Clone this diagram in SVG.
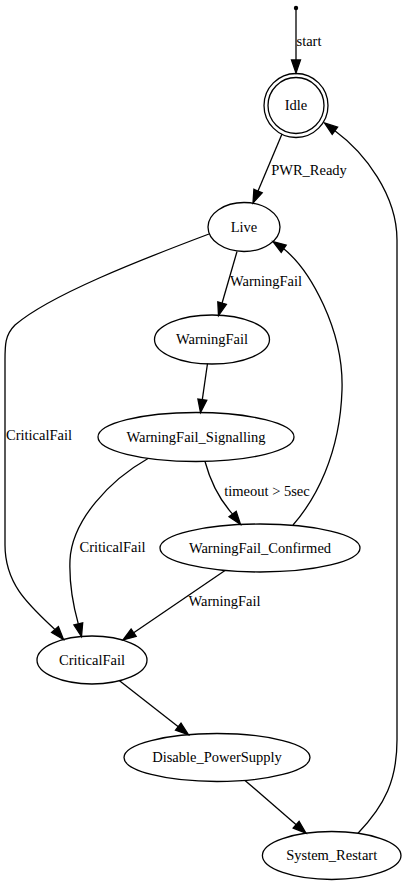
<svg xmlns="http://www.w3.org/2000/svg" width="406" height="885" viewBox="0 0 406 885" font-family="Liberation Serif, serif">
<style>
.n ellipse,.n circle{fill:none;stroke:#000;stroke-width:1.3}
text{font-family:'Liberation Serif',serif;font-size:14.5px;fill:#000;text-anchor:middle}
.e path,.e line{fill:none;stroke:#000;stroke-width:1.3}
.e polygon{fill:#000;stroke:#000;stroke-width:1.3}
</style>
<rect width="406" height="885" fill="#fff"/>
<g id="start"><circle cx="296" cy="8" r="2.2" fill="#000"/></g>
<g id="Idle" class="n"><circle cx="296" cy="105.5" r="32"/><circle cx="296" cy="105.5" r="28"/><text x="296" y="110">Idle</text></g>
<g id="Live" class="n"><ellipse cx="244" cy="227" rx="36" ry="24.5"/><text x="244" y="231.5">Live</text></g>
<g id="WarningFail" class="n"><ellipse cx="212" cy="339.5" rx="57.5" ry="24.5"/><text x="212" y="344">WarningFail</text></g>
<g id="WarningFail_Signalling" class="n"><ellipse cx="196" cy="437" rx="98" ry="24.5"/><text x="196" y="441.5">WarningFail_Signalling</text></g>
<g id="WarningFail_Confirmed" class="n"><ellipse cx="260" cy="548" rx="100" ry="24"/><text x="260" y="552.5">WarningFail_Confirmed</text></g>
<g id="CriticalFail" class="n"><ellipse cx="92" cy="660" rx="55" ry="24"/><text x="92" y="664.5">CriticalFail</text></g>
<g id="Disable_PowerSupply" class="n"><ellipse cx="217" cy="757.5" rx="93" ry="24"/><text x="217" y="762">Disable_PowerSupply</text></g>
<g id="System_Restart" class="n"><ellipse cx="331.7" cy="855.5" rx="69.3" ry="24"/><text x="331.7" y="860">System_Restart</text></g>
<g id="edges" class="e">
<line x1="296" y1="10" x2="296" y2="60"/><polygon points="291.5,60 296,73 300.5,60"/>
<text x="309" y="46">start</text>
<line x1="282" y1="134" x2="258" y2="191"/><polygon points="262.2,192.8 253,203 253.9,189.3"/>
<text x="309" y="175">PWR_Ready</text>
<line x1="237" y1="251.5" x2="222.1" y2="303"/><polygon points="226.4,304.3 218.5,315.5 217.8,301.8"/>
<text x="266" y="286">WarningFail</text>
<line x1="207.5" y1="363.5" x2="202.3" y2="399.6"/><polygon points="206.8,400.3 200.5,412.5 197.9,399"/>
<path d="M205,461.5 C210,480 219,499 232.6,514.1"/><polygon points="229,516.8 240.5,524.5 236.2,511.4"/>
<text x="267" y="496">timeout &gt; 5sec</text>
<path d="M293,525 C315,500 340,455 342,390 C344,330 310,270 283.7,248.8"/><polygon points="286.2,245.1 273,241.5 281.2,252.5"/>
<path d="M148,458.5 C110,480 72,520 70,560 C69,585 73,605 78.3,623.9"/><polygon points="73.9,625 81.5,636.5 82.7,622.8"/>
<text x="112.5" y="551.5">CriticalFail</text>
<line x1="225" y1="570.5" x2="133.7" y2="632.7"/><polygon points="131.2,629 123,640 136.2,636.4"/>
<text x="224.5" y="606">WarningFail</text>
<path d="M209,234 C140,260 50,295 15,325 C5,335 5,345 5,360 L5,545 C5,585 30,606 55,629.6"/><polygon points="51.6,632.5 63.5,639.5 58.4,626.7"/>
<text x="39" y="440">CriticalFail</text>
<line x1="119.5" y1="680.8" x2="178.3" y2="726.7"/><polygon points="175.5,730.2 188.5,734.7 181,723.1"/>
<line x1="245" y1="780.4" x2="296.2" y2="824.7"/><polygon points="293.2,828.1 306,833.2 299.1,821.3"/>
<path d="M358,833.3 C385,805 397,780 397,740 L397,240 C397,195 365,153 334.9,130.8"/><polygon points="337.6,127.2 324.5,123 332.2,134.4"/>
</g>
</svg>
